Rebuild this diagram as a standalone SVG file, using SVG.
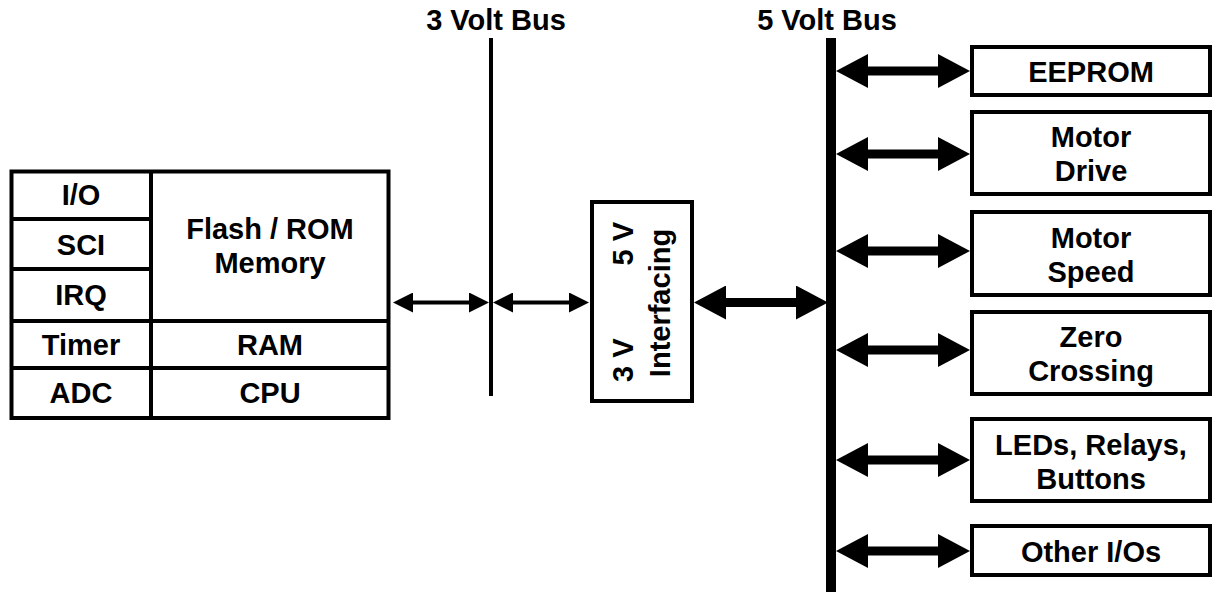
<svg xmlns="http://www.w3.org/2000/svg" width="1213" height="592" viewBox="0 0 1213 592">
<defs>
<style>
.box{fill:#fff;stroke:#000;stroke-width:4}
.t{font-family:"Liberation Sans",Arial,sans-serif;font-weight:bold;font-size:29px;fill:#000;text-anchor:middle}
.thin{stroke:#000;stroke-width:4;fill:none}
.thick{stroke:#000;stroke-width:9;fill:none}
.bus3{stroke:#000;stroke-width:4}
.bus5{stroke:#000;stroke-width:10}
</style>
<marker id="hs" markerUnits="userSpaceOnUse" viewBox="0 0 20 20" markerWidth="20" markerHeight="20" refX="10" refY="10" orient="auto-start-reverse">
<path d="M0,0 L20,10 L0,20 z" fill="#000"/>
</marker>
<marker id="hb" markerUnits="userSpaceOnUse" viewBox="0 0 32 34" markerWidth="32" markerHeight="34" refX="16" refY="17" orient="auto-start-reverse">
<path d="M0,0 L32,17 L0,34 z" fill="#000"/>
</marker>
</defs>
<rect width="1213" height="592" fill="#fff"/>

<g id="buses">
<line class="bus3" x1="491" y1="38" x2="491" y2="396"/>
<line class="bus5" x1="831" y1="38" x2="831" y2="592"/>
<text class="t" x="496" y="30">3 Volt Bus</text>
<text class="t" x="827" y="30">5 Volt Bus</text>
</g>

<g id="mcu">
<rect class="box" x="11.5" y="171.5" width="377" height="246.5"/>
<line class="thin" x1="151" y1="171.5" x2="151" y2="418"/>
<line class="thin" x1="11.5" y1="219" x2="151" y2="219"/>
<line class="thin" x1="11.5" y1="269" x2="151" y2="269"/>
<line class="thin" x1="11.5" y1="321" x2="388.5" y2="321"/>
<line class="thin" x1="11.5" y1="368" x2="388.5" y2="368"/>
<text class="t" x="81" y="205">I/O</text>
<text class="t" x="81" y="255">SCI</text>
<text class="t" x="81" y="305">IRQ</text>
<text class="t" x="81" y="355">Timer</text>
<text class="t" x="81" y="403">ADC</text>
<text class="t" x="270" y="239">Flash / ROM</text>
<text class="t" x="270" y="273">Memory</text>
<text class="t" x="270" y="355">RAM</text>
<text class="t" x="270" y="403">CPU</text>
</g>

<g id="interfacing">
<rect class="box" x="592" y="202" width="100" height="199"/>
<text class="t" transform="translate(633,382) rotate(-90)" style="text-anchor:start">3 V</text>
<text class="t" transform="translate(633,222) rotate(-90)" style="text-anchor:end">5 V</text>
<text class="t" transform="translate(670,303) rotate(-90)">Interfacing</text>
</g>

<g id="eeprom">
<rect class="box" x="972" y="47" width="238" height="48"/>
<text class="t" x="1091" y="82">EEPROM</text>
</g>
<g id="motor-drive">
<rect class="box" x="972" y="112" width="238" height="82"/>
<text class="t" x="1091" y="147">Motor</text>
<text class="t" x="1091" y="181">Drive</text>
</g>
<g id="motor-speed">
<rect class="box" x="972" y="212" width="238" height="83"/>
<text class="t" x="1091" y="248">Motor</text>
<text class="t" x="1091" y="282">Speed</text>
</g>
<g id="zero-crossing">
<rect class="box" x="972" y="312" width="238" height="82"/>
<text class="t" x="1091" y="347">Zero</text>
<text class="t" x="1091" y="381">Crossing</text>
</g>
<g id="leds">
<rect class="box" x="972" y="419" width="238" height="82"/>
<text class="t" x="1091" y="455">LEDs, Relays,</text>
<text class="t" x="1091" y="489">Buttons</text>
</g>
<g id="other-ios">
<rect class="box" x="972" y="526" width="238" height="49"/>
<text class="t" x="1091" y="562">Other I/Os</text>
</g>

<g id="connectors">
<line class="thin" x1="403" y1="302.5" x2="479" y2="302.5" marker-start="url(#hs)" marker-end="url(#hs)"/>
<line class="thin" x1="503" y1="302.5" x2="579" y2="302.5" marker-start="url(#hs)" marker-end="url(#hs)"/>
<line class="thick" x1="710" y1="302.5" x2="812" y2="302.5" marker-start="url(#hb)" marker-end="url(#hb)"/>
<line class="thick" x1="852" y1="71" x2="954" y2="71" marker-start="url(#hb)" marker-end="url(#hb)"/>
<line class="thick" x1="852" y1="154" x2="954" y2="154" marker-start="url(#hb)" marker-end="url(#hb)"/>
<line class="thick" x1="852" y1="251" x2="954" y2="251" marker-start="url(#hb)" marker-end="url(#hb)"/>
<line class="thick" x1="852" y1="350" x2="954" y2="350" marker-start="url(#hb)" marker-end="url(#hb)"/>
<line class="thick" x1="852" y1="460" x2="954" y2="460" marker-start="url(#hb)" marker-end="url(#hb)"/>
<line class="thick" x1="852" y1="551" x2="954" y2="551" marker-start="url(#hb)" marker-end="url(#hb)"/>
</g>
</svg>
